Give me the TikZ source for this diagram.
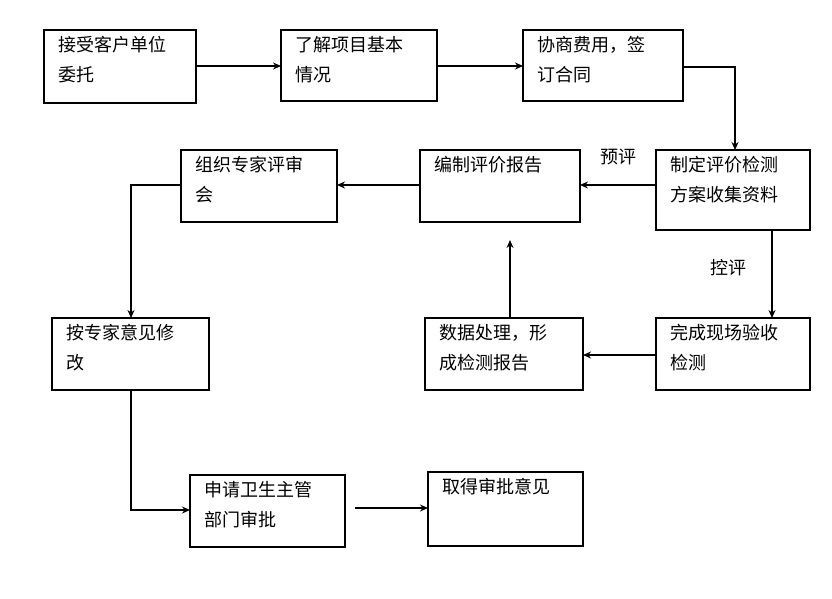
\documentclass[tikz,border=0pt]{standalone}
\usepackage{fontspec}
\setmainfont{Noto Sans CJK SC}
\usetikzlibrary{arrows.meta}
\begin{document}
\begin{tikzpicture}[x=1pt,y=-1pt,
  bx/.style={draw,line width=1.3pt},
  tx/.style={anchor=north west,align=left,font=\fontsize{18}{30}\selectfont,inner sep=0pt},
  ar/.style={-{Stealth[length=8pt,width=7pt]},line width=1.2pt},
  lb/.style={font=\fontsize{18}{20}\selectfont}]
\useasboundingbox (0,0) rectangle (832,598);
\newcommand\bxx[6]{\draw[bx] (#2,#3) rectangle (#4,#5); \coordinate (#1nw) at (#2,#3); \coordinate (#1se) at (#4,#5);
  \node[tx] (#1t) at (#2+14,#3+6) {#6};}
\bxx{a}{44}{30}{196}{103}{接受客户单位\\委托}
\bxx{b}{281}{30}{437}{101}{了解项目基本\\情况}
\bxx{c}{523}{30}{683}{101}{协商费用，签\\订合同}
\bxx{d}{656}{150}{810}{230}{制定评价检测\\方案收集资料}
\bxx{e}{420}{150}{580}{222}{编制评价报告}
\bxx{f}{181}{150}{337}{222}{组织专家评审\\会}
\bxx{g}{52}{318}{209}{390}{按专家意见修\\改}
\bxx{h}{656}{318}{810}{390}{完成现场验收\\检测}
\bxx{i}{425}{318}{583}{390}{数据处理，形\\成检测报告}
\bxx{j}{190}{475}{345}{547}{申请卫生主管\\部门审批}
\bxx{k}{428}{472}{583}{546}{取得审批意见}
\coordinate (p1) at (196,66); \coordinate (p2) at (281,66);
\draw[ar] (p1) -- (p2);
\coordinate (p3) at (437,66); \coordinate (p4) at (523,66);
\draw[ar] (p3) -- (p4);
\coordinate (p5) at (683,67); \coordinate (p6) at (735,150);
\draw[ar] (p5) -| (p6);
\coordinate (p7) at (656,185); \coordinate (p8) at (580,185);
\draw[ar] (p7) -- (p8);
\node[lb] (yp) at (618,157) {预评};
\coordinate (p9) at (420,185); \coordinate (p10) at (337,185);
\draw[ar] (p9) -- (p10);
\coordinate (p11) at (181,185); \coordinate (p12) at (131,318);
\draw[ar] (p11) -| (p12);
\coordinate (p13) at (772,230); \coordinate (p14) at (772,318);
\draw[ar] (p13) -- (p14);
\node[lb] (kp) at (728,268) {控评};
\coordinate (p15) at (656,355); \coordinate (p16) at (583,355);
\draw[ar] (p15) -- (p16);
\coordinate (p17) at (510,318); \coordinate (p18) at (510,240);
\draw[ar] (p17) -- (p18);
\coordinate (p19) at (131,390); \coordinate (p20) at (190,510);
\draw[ar] (p19) |- (p20);
\coordinate (p21) at (355,508); \coordinate (p22) at (428,508);
\draw[ar] (p21) -- (p22);
\end{tikzpicture}
\end{document}
